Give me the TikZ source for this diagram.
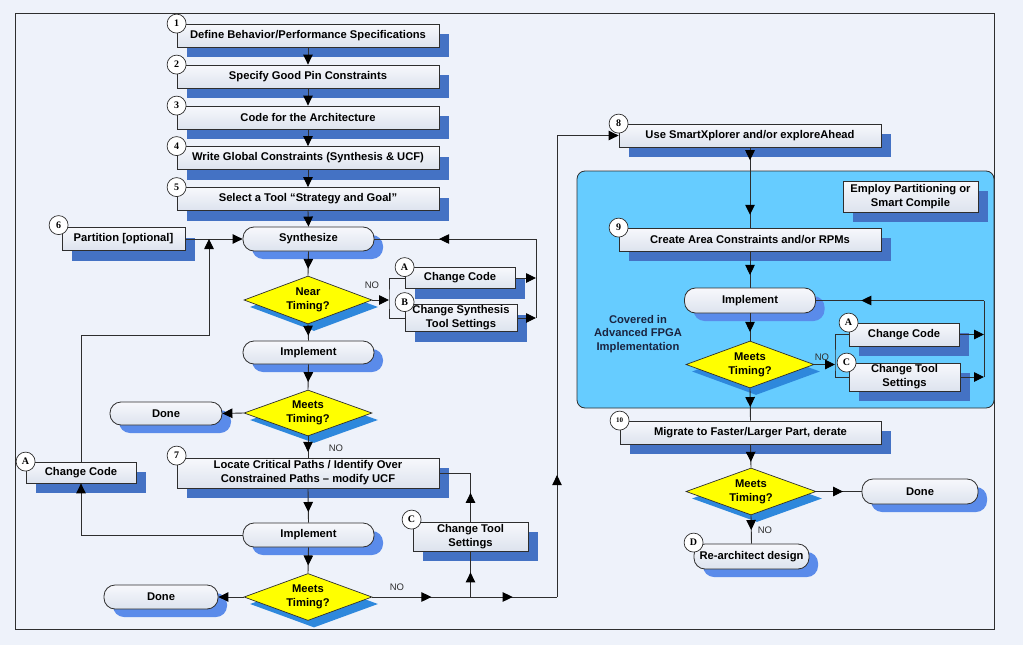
\documentclass[tikz,border=0pt]{standalone}
\usepackage{fontspec}
\setmainfont{Liberation Sans}
\newfontfamily\numfont{Liberation Serif}
\usetikzlibrary{shapes.geometric,shadows,arrows.meta,decorations.markings,calc}
\definecolor{bg}{HTML}{EEF2FA}
\definecolor{linegray}{HTML}{2E2E2E}
\definecolor{boxtop}{HTML}{F7F8FC}
\definecolor{boxbot}{HTML}{DDE3EE}
\definecolor{rshadow}{HTML}{4472C4}
\definecolor{oshadow}{HTML}{5A8BEA}
\definecolor{dshadow}{HTML}{2E88DC}
\definecolor{panelblue}{HTML}{66CCFF}
\definecolor{dyellow}{HTML}{FFFF00}
\definecolor{navytext}{HTML}{1A2440}
\tikzset{
  every node/.style={font=\bfseries\fontsize{11.2}{14}\selectfont},
  boxbase/.style={rectangle, draw=linegray, line width=0.8pt, top color=boxtop, bottom color=boxbot, inner sep=1pt, align=center},
  sbox/.style={boxbase, drop shadow={shadow xshift=10pt, shadow yshift=-10pt, fill=rshadow, opacity=1}},
  rbox/.style={boxbase, rounded corners=11pt, drop shadow={shadow xshift=9pt, shadow yshift=-8pt, fill=oshadow, opacity=1}},
  diam/.style={diamond, draw=linegray, line width=0.7pt, fill=dyellow, inner sep=0pt, shape aspect=2.7, align=center, drop shadow={shadow xshift=6pt, shadow yshift=-7pt, fill=dshadow, opacity=1}},
  num/.style={circle, draw=linegray, line width=0.7pt, fill=white, inner sep=0pt, minimum size=19pt, font=\numfont\bfseries\fontsize{10}{10}\selectfont},
  lbl/.style={font=\mdseries\fontsize{9.5}{10}\selectfont, text=linegray, inner sep=0pt},
  conn/.style={draw=linegray, line width=0.9pt},
  endtip/.style={-{Triangle[length=10pt,width=9.5pt,color=black]}},
  tip/.style={postaction={decorate,decoration={markings,mark=at position #1 with {\arrow[black]{Triangle[length=10pt,width=9.5pt]}}}}}
}
\begin{document}
\begin{tikzpicture}[x=1pt,y=-1pt]
\useasboundingbox (0,0) rectangle (1023,645);
\fill[bg] (0,0) rectangle (1023,645);
\draw[linegray, line width=0.8pt] (15,13) rectangle (994,629);
% panel
\draw[draw=linegray, line width=0.8pt, fill=panelblue, rounded corners=8pt] (577,171) rectangle (994,408);

% left column
\node[sbox, minimum width=262pt, minimum height=23pt] (b1) at (308,35.5) {Define Behavior/Performance Specifications};
\node[sbox, minimum width=262pt, minimum height=23pt] (b2) at (308,76.5) {Specify Good Pin Constraints};
\node[sbox, minimum width=262pt, minimum height=23pt] (b3) at (308,117.5) {Code for the Architecture};
\node[sbox, minimum width=262pt, minimum height=23pt] (b4) at (308,158) {Write Global Constraints (Synthesis \& UCF)};
\node[sbox, minimum width=262pt, minimum height=23pt] (b5) at (308,199) {Select a Tool “Strategy and Goal”};
\node[rbox, minimum width=131pt, minimum height=24pt] (synth) at (308.5,239) {Synthesize};
\node[sbox, minimum width=123pt, minimum height=23pt] (part) at (123.5,239) {Partition [optional]};
\node[diam, minimum width=128pt, minimum height=48pt] (near) at (308,300) {Near\\Timing?};
\node[sbox, minimum width=110pt, minimum height=21pt] (ccA1) at (460,278) {Change Code};
\node[sbox, minimum width=112pt, minimum height=27pt] (csB) at (461,318) {Change Synthesis\\Tool Settings};
\node[rbox, minimum width=131pt, minimum height=23pt] (impl1) at (308.5,352.5) {Implement};
\node[diam, minimum width=128pt, minimum height=46pt] (meet1) at (308,413) {Meets\\Timing?};
\node[rbox, minimum width=112pt, minimum height=23pt] (done1) at (166,413.5) {Done};
\node[sbox, minimum width=262pt, minimum height=30pt] (b7) at (308,473) {Locate Critical Paths / Identify Over\\Constrained Paths – modify UCF};
\node[sbox, minimum width=110pt, minimum height=21pt] (ccA2) at (81,472.5) {Change Code};
\node[rbox, minimum width=131pt, minimum height=24pt] (impl2) at (308.5,535) {Implement};
\node[diam, minimum width=128pt, minimum height=47pt] (meet2) at (308,597) {Meets\\Timing?};
\node[rbox, minimum width=114pt, minimum height=24pt] (done2) at (161,597) {Done};
\node[sbox, minimum width=115pt, minimum height=29pt] (ctC) at (470.5,536.5) {Change Tool\\Settings};

% right column
\node[sbox, minimum width=262pt, minimum height=23pt] (b8) at (750,135.5) {Use SmartXplorer and/or exploreAhead};
\node[sbox, minimum width=135pt, minimum height=31pt] (employ) at (910.5,196.5) {Employ Partitioning or\\Smart Compile};
\node[sbox, minimum width=262pt, minimum height=23pt] (b9) at (750,239.5) {Create Area Constraints and/or RPMs};
\node[rbox, minimum width=131pt, minimum height=25pt] (impl3) at (750,300.5) {Implement};
\node[font=\bfseries\fontsize{11.2}{13.5}\selectfont, text=navytext, align=center] (covered) at (638,334) {Covered in\\Advanced FPGA\\Implementation};
\node[diam, minimum width=128pt, minimum height=47pt] (meet3) at (750,364.5) {Meets\\Timing?};
\node[sbox, minimum width=110pt, minimum height=23pt] (ccA3) at (904,334.5) {Change Code};
\node[sbox, minimum width=111pt, minimum height=28pt] (ctC3) at (904.5,377) {Change Tool\\Settings};
\node[sbox, minimum width=261pt, minimum height=23pt] (b10) at (750.5,432.5) {Migrate to Faster/Larger Part, derate};
\node[diam, minimum width=130pt, minimum height=47pt] (meet4) at (751,491.5) {Meets\\Timing?};
\node[rbox, minimum width=116pt, minimum height=25pt] (done3) at (920,491.5) {Done};
\node[rbox, minimum width=115pt, minimum height=25pt] (rearch) at (751.5,556.5) {Re-architect design};

% number circles
\node[num] (c1) at (b1.north west) {1};
\node[num] (c2) at (b2.north west) {2};
\node[num] (c3) at (b3.north west) {3};
\node[num] (c4) at (b4.north west) {4};
\node[num] (c5) at (b5.north west) {5};
\node[num] (c6) at ($(part.north west)+(-3,-2)$) {6};
\node[num] (cA1) at (ccA1.north west) {A};
\node[num] (cB) at ($(csB.north west)+(0,-2)$) {B};
\node[num] (c7) at ($(b7.north west)+(0,-2)$) {7};
\node[num] (cA2) at (ccA2.north west) {A};
\node[num] (cC) at ($(ctC.north west)+(-1,-2)$) {C};
\node[num] (c8) at (b8.north west) {8};
\node[num] (c9) at (b9.north west) {9};
\node[num] (cA3) at (ccA3.north west) {A};
\node[num] (cC3) at ($(ctC3.north west)+(-2,0)$) {C};
\node[num, font=\numfont\bfseries\fontsize{7}{7}\selectfont] (c10) at (b10.north west) {10};
\node[num] (cD) at ($(rearch.north west)+(0,-1)$) {D};

% coordinates
\coordinate (jB) at (389,300);
\coordinate (jR) at (536,239);
\coordinate (jL) at (209,239);
\coordinate (kL) at (209,335);
\coordinate (jC) at (ctC.south |- meet2.east);
\coordinate (jR2) at (557,597);
\coordinate (jB3) at (835,364.5);
\coordinate (jR3) at (984,300.5);

% labels
\node[lbl] (no1) at (372,285) {NO};
\node[lbl] (no2) at (336,448) {NO};
\node[lbl] (no3) at (397,587) {NO};
\node[lbl] (no4) at (822,357) {NO};
\node[lbl] (no5) at (765,530) {NO};

% connectors left
\draw[conn,endtip] (b1.south) -- (b2.north);
\draw[conn,endtip] (b2.south) -- (b3.north);
\draw[conn,endtip] (b3.south) -- (b4.north);
\draw[conn,endtip] (b4.south) -- (b5.north);
\draw[conn,endtip] (b5.south) -- (synth.north);
\draw[conn,endtip] (part.east) -- (synth.west);
\draw[conn,tip=0.72] (synth.south) -- (near.north);
\draw[conn,endtip] (near.east) -- (jB);
\draw[conn] (ccA1.west) -| (jB) |- (csB.west);
\draw[conn,endtip] (ccA1.east) -- (ccA1.east -| jR);
\draw[conn,endtip] (csB.east) -- (csB.east -| jR);
\draw[conn] (csB.east -| jR) -- (jR);
\draw[conn,tip=0.6] (jR) -- (synth.east);
\draw[conn,tip=0.7] (near.south) -- (impl1.north);
\draw[conn,tip=0.7] (impl1.south) -- (meet1.north);
\draw[conn,endtip] (meet1.west) -- (done1.east);
\draw[conn,tip=0.73] (meet1.south) -- (b7.north);
\draw[conn,tip=0.69] (b7.south) -- (impl2.north);
\draw[conn,tip=0.7] (impl2.south) -- (meet2.north);
\draw[conn,endtip] (meet2.west) -- (done2.east);
\draw[conn,endtip] (impl2.west) -| (ccA2.south);
\draw[conn,endtip] (ccA2.north) |- (kL) -- (jL);
\draw[conn,tip=0.32,tip=0.76] (meet2.east) -- (jR2);
\draw[conn,tip=0.54] (jC) -- (ctC.south);
\draw[conn,tip=0.36] (ctC.north) |- (b7.east);
\draw[conn,tip=0.233,endtip] (jR2) |- (b8.west);

% connectors right
\draw[conn,tip=0.16,tip=0.84] (b8.south) -- (b9.north);
\draw[conn,tip=0.65] (b9.south) -- (impl3.north);
\draw[conn,tip=0.68] (impl3.south) -- (meet3.north);
\draw[conn,endtip] (meet3.east) -- (jB3);
\draw[conn] (ccA3.west) -| (jB3) |- (ctC3.west);
\draw[conn,endtip] (ccA3.east) -- (ccA3.east -| jR3);
\draw[conn,endtip] (ctC3.east) -- (ctC3.east -| jR3);
\draw[conn] (ctC3.east -| jR3) -- (jR3);
\draw[conn,tip=0.73] (jR3) -- (impl3.east);
\draw[conn,tip=0.58] (meet3.south) -- (b10.north);
\draw[conn,tip=0.75] (b10.south) -- (meet4.north);
\draw[conn,tip=0.59] (meet4.east) -- (done3.west);
\draw[conn,tip=0.52] (meet4.south) -- (rearch.north);
\end{tikzpicture}
\end{document}
